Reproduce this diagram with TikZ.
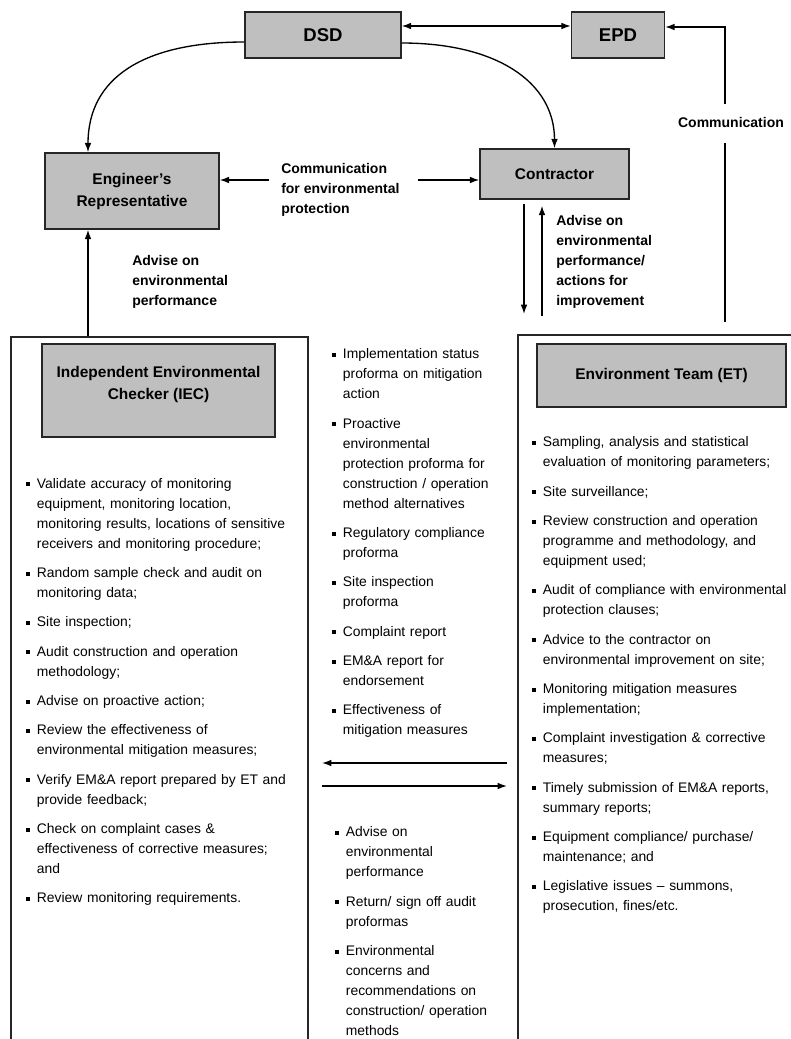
\documentclass[tikz,border=0pt]{standalone}
\usepackage{fontspec}
\setmainfont{Liberation Sans}
\usetikzlibrary{arrows.meta}
% square bullet and list item with hanging indent
\newcommand\bulbox{\strut\makebox[8pt][l]{\rule[1.4pt]{3pt}{3pt}}}
\newcommand\bul[1][7pt]{\par\ifdim#1>0pt \vskip#1\relax\fi\hangindent=8pt\hangafter=1\noindent\bulbox}
\begin{document}
\begin{tikzpicture}[x=0.75pt, y=-0.75pt, >={Latex[length=7pt,width=5pt]},
  unit/.style={draw=black!85, line width=1.1pt, fill=black!25, font=\bfseries\fontsize{11.6}{16.5}\selectfont, align=center, inner sep=0},
  frame/.style={draw=black!85, line width=0.8pt, inner sep=0},
  lbl/.style={font=\bfseries\fontsize{10.5}{15}\selectfont, align=left, inner sep=0, anchor=west},
  duties/.style={font=\fontsize{10.4}{15}\selectfont, text width=#1, align=left, inner sep=0, anchor=north west},
  link/.style={line width=1pt}]
\useasboundingbox (0,0) rectangle (791,1039);
\clip (0,0) rectangle (791,1039);
% organisations
\node[unit, font=\bfseries\fontsize{13.9}{16}\selectfont, minimum width=117pt, minimum height=34.5pt] (dsd) at (323,35) {DSD};
\node[unit, font=\bfseries\fontsize{13.9}{16}\selectfont, minimum width=69.75pt, minimum height=34.5pt] (epd) at (618,35) {EPD};
\node[unit, minimum width=130.5pt, minimum height=57pt] (er) at (132,191) {Engineer’s\\Representative};
\node[unit, minimum width=111.75pt, minimum height=37.5pt] (con) at (554.5,174) {Contractor};
\node[frame, minimum width=222.75pt, minimum height=542.25pt] (iecf) at (159.5,698.5) {};
\node[frame, minimum width=226.5pt, minimum height=543.75pt] (etf) at (669,697.5) {};
\node[unit, minimum width=174.75pt, minimum height=69.75pt] (iec) at (158.5,390.5) {};
\node[unit, draw=none, fill=none] (iect) at (158.5,384) {Independent Environmental\\Checker (IEC)};
\node[unit, minimum width=186.75pt, minimum height=47.25pt] (et) at (661.5,375.5) {Environment Team (ET)};
% labels
\node[lbl] (commer) at (281,190) {Communication\\for environmental\\protection};
\node[lbl] (adver) at (132,282) {Advise on\\environmental\\performance};
\node[lbl] (advcon) at (556,262) {Advise on\\environmental\\performance/\\actions for\\improvement};
\node[lbl, anchor=center] (commepd) at (731,122) {Communication};
% free ends
\coordinate (condn) at (524,314);
\coordinate (conup) at (542,316);
\coordinate (erfoot) at ([xshift=-33pt]er.south);
\coordinate (epdlo) at (725,322);
\coordinate (epdmid) at (725,143);
\coordinate (epdhi) at (725,104);
\coordinate (fromet) at (507,763);
\coordinate (toiec) at (322,763);
\coordinate (fromiec) at (322,786);
\coordinate (toet) at (507,786);
% connectors
\draw[link, <->] ([yshift=6.75pt]dsd.east) -- ([yshift=6.75pt]epd.west);
\draw[link, ->] ([yshift=-5.25pt]dsd.west) .. controls +(-100,0) and +(0,-75) .. ([xshift=-33pt]er.north);
\draw[link, ->] ([yshift=-6pt]dsd.east) .. controls +(95,0) and +(0,-66) .. (con.north);
\draw[link, ->] ([shift={(-9pt,7.5pt)}]commer.west) -- ([yshift=8.25pt]er.east);
\draw[link, ->] ([shift={(14pt,7.5pt)}]commer.east) -- ([yshift=-4.5pt]con.west);
\draw[link, ->] (condn |- con.south) ++(0,4) -- (condn);
\draw[link, <-] (conup |- con.south) ++(0,6) -- (conup);
\draw[link, ->] (erfoot |- iecf.north) -- (erfoot);
\draw[link] (epdlo) -- (epdmid);
\draw[link, ->] (epdhi) |- ([yshift=6pt]epd.east);
\draw[link, ->] (fromet) -- (toiec);
\draw[link, ->] (fromiec) -- (toet);
% duty lists
\node[duties=230pt] (iecl) at (26,468) {\bul[0pt]Validate accuracy of monitoring\newline equipment, monitoring location,\newline monitoring results, locations of sensitive\newline receivers and monitoring procedure;
\bul Random sample check and audit on\newline monitoring data;
\bul Site inspection;
\bul Audit construction and operation\newline methodology;
\bul Advise on proactive action;
\bul Review the effectiveness of\newline environmental mitigation measures;
\bul Verify EM\&A report prepared by ET and\newline provide feedback;
\bul Check on complaint cases \&\newline effectiveness of corrective measures;\newline and
\bul Review monitoring requirements.\par};
\node[duties=150pt] (docs) at (332,338.5) {\bul[0pt]Implementation status\newline proforma on mitigation\newline action
\bul Proactive\newline environmental\newline protection proforma for\newline construction / operation\newline method alternatives
\bul Regulatory compliance\newline proforma
\bul Site inspection\newline proforma
\bul Complaint report
\bul EM\&A report for\newline endorsement
\bul Effectiveness of\newline mitigation measures\par};
\node[duties=150pt] (feedback) at (335,816.5) {\bul[0pt]Advise on\newline environmental\newline performance
\bul Return/ sign off audit\newline proformas
\bul Environmental\newline concerns and\newline recommendations on\newline construction/ operation\newline methods\par};
\node[duties=200pt] (etl) at (532,426.5) {\bul[0pt]Sampling, analysis and statistical\newline evaluation of monitoring parameters;
\bul Site surveillance;
\bul Review construction and operation\newline programme and methodology, and\newline equipment used;
\bul Audit of compliance with environmental\newline protection clauses;
\bul Advice to the contractor on\newline environmental improvement on site;
\bul Monitoring mitigation measures\newline implementation;
\bul Complaint investigation \& corrective\newline measures;
\bul Timely submission of EM\&A reports,\newline summary reports;
\bul Equipment compliance/ purchase/\newline maintenance; and
\bul Legislative issues – summons,\newline prosecution, fines/etc.\par};
\end{tikzpicture}
\end{document}
